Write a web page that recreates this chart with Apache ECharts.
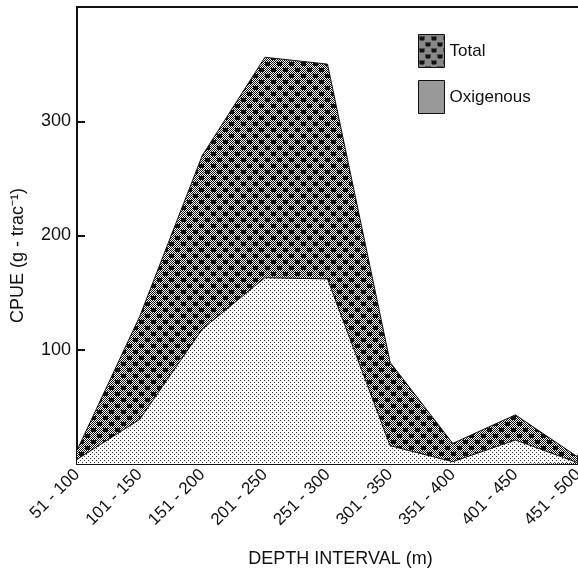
<!DOCTYPE html>
<html>
<head>
<meta charset="utf-8">
<title>CPUE by depth interval</title>
<script src="https://cdn.jsdelivr.net/npm/echarts@6/dist/echarts.min.js"></script>
<style>
    html, body { margin: 0; padding: 0; background: #fff; overflow: hidden; }
    #main { width: 578px; height: 573px; }
</style>
</head>
<body>
<div id="main"></div>
<script>
// 数据
var depthIntervals = ['51 - 100', '101 - 150', '151 - 200', '201 - 250', '251 - 300',
    '301 - 350', '351 - 400', '401 - 450', '451 - 500'];
var totalCpue = [12, 129, 270, 356, 350, 89, 18, 43, 6];
var oxigenousCpue = [4, 39, 118, 163, 162, 16, 2, 21, 1];
var yTicks = [100, 200, 300];

// 网点图案 (scan-like dither)
function makeTotalPattern() {
    var c = document.createElement('canvas');
    c.width = 12;
    c.height = 12;
    var ctx = c.getContext('2d');
    ctx.fillStyle = '#fff';
    ctx.fillRect(0, 0, 12, 12);
    ctx.fillStyle = '#111';
    for (var y = 0; y < 12; y++) {
        for (var x = 0; x < 12; x++) {
            if ((x + y) % 2 === 0) ctx.fillRect(x, y, 1, 1);
        }
    }
    ctx.fillRect(1, 2, 5, 4);
    ctx.fillRect(7, 8, 5, 4);
    return c;
}

function makeOxiPattern(dense) {
    var c = document.createElement('canvas');
    c.width = 4;
    c.height = 4;
    var ctx = c.getContext('2d');
    ctx.fillStyle = '#fff';
    ctx.fillRect(0, 0, 4, 4);
    ctx.fillStyle = '#333';
    for (var y = 0; y < 4; y++) {
        for (var x = 0; x < 4; x++) {
            if (dense ? (x + y) % 2 === 0 : (x % 2 === 0 && y % 2 === 0 && (x + y) % 4 === 0)) {
                ctx.fillRect(x, y, 1, 1);
            }
        }
    }
    return c;
}

window.onload = function () {
    var myChart = echarts.init(document.getElementById('main'));

    var totalFill = {image: makeTotalPattern(), repeat: 'repeat'};
    var oxiFill = {image: makeOxiPattern(false), repeat: 'repeat'};
    var oxiLegend = {image: makeOxiPattern(true), repeat: 'repeat'};
    var font = 'Liberation Sans';

    var option = {
        animation: false,
        backgroundColor: '#fff',
        grid: {left: 77, right: 0, top: 7, bottom: 109, outerBoundsMode: 'none', containLabel: false},
        legend: {
            orient: 'vertical',
            left: 413,
            top: 29,
            itemWidth: 26,
            itemHeight: 33,
            itemGap: 12,
            icon: 'rect',
            textStyle: {fontFamily: font, fontSize: 17, color: '#111'},
            data: [
                {name: 'Total', itemStyle: {color: totalFill, borderColor: '#111', borderWidth: 1}},
                {name: 'Oxigenous', itemStyle: {color: oxiLegend, borderColor: '#111', borderWidth: 1}}
            ]
        },
        xAxis: [
            {
                type: 'category',
                data: depthIntervals,
                boundaryGap: false,
                name: 'DEPTH INTERVAL (m)',
                nameLocation: 'middle',
                nameGap: 86,
                nameTextStyle: {fontFamily: font, fontSize: 18, color: '#111', padding: [0, 0, 0, 26]},
                axisLine: {lineStyle: {color: '#111', width: 2}},
                axisTick: {inside: true, length: 9, alignWithLabel: true, lineStyle: {color: '#111', width: 2}},
                axisLabel: {
                    rotate: 45,
                    interval: 0,
                    margin: 8,
                    fontFamily: font,
                    fontSize: 17,
                    color: '#111'
                },
                splitLine: {show: false}
            },
            {
                type: 'category',
                position: 'top',
                data: depthIntervals,
                boundaryGap: false,
                axisLine: {lineStyle: {color: '#111', width: 2}},
                axisTick: {show: false},
                axisLabel: {show: false}
            }
        ],
        yAxis: {
            type: 'value',
            min: 0,
            max: 400,
            interval: 100,
            name: 'CPUE (g - trac⁻¹)',
            nameLocation: 'middle',
            nameRotate: 90,
            nameGap: 50,
            nameTextStyle: {fontFamily: font, fontSize: 18, color: '#111', padding: [0, 40, 0, 0]},
            axisLine: {show: true, lineStyle: {color: '#111', width: 2}},
            axisTick: {show: true, inside: true, length: 8, lineStyle: {color: '#111', width: 2}},
            axisLabel: {
                fontFamily: font,
                fontSize: 18,
                color: '#111',
                margin: 6,
                formatter: function (v) {
                    return yTicks.indexOf(v) >= 0 ? String(v) : '';
                }
            },
            splitLine: {show: false}
        },
        series: [
            {
                name: 'Total',
                type: 'line',
                data: totalCpue,
                symbol: 'none',
                lineStyle: {color: '#111', width: 1},
                itemStyle: {color: '#333'},
                areaStyle: {color: totalFill, opacity: 1},
                z: 2
            },
            {
                name: 'Oxigenous',
                type: 'line',
                data: oxigenousCpue,
                symbol: 'none',
                lineStyle: {color: '#111', width: 1},
                itemStyle: {color: '#888'},
                areaStyle: {color: oxiFill, opacity: 1},
                z: 3
            }
        ]
    };

    myChart.setOption(option);
};
</script>
</body>
</html>
